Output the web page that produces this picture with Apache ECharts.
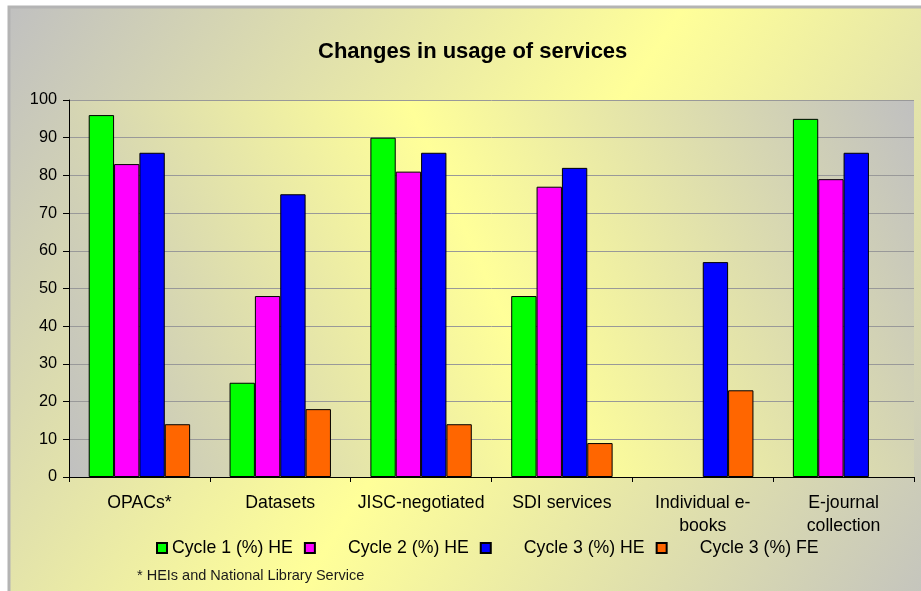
<!DOCTYPE html>
<html>
<head>
<meta charset="utf-8">
<title>Changes in usage of services</title>
<script src="https://cdn.jsdelivr.net/npm/echarts@6/dist/echarts.min.js"></script>
<style>
	html, body {margin:0; padding:0; background:#ffffff;}
	#main {width:921px; height:591px;}
</style>
</head>
<body>
<div id="main"></div>
<script>
	// 数据
	var categories = ['OPACs*', 'Datasets', 'JISC-negotiated', 'SDI services', 'Individual e-\nbooks', 'E-journal\ncollection'];
	var seriesNames = ['Cycle 1 (%) HE', 'Cycle 2 (%) HE', 'Cycle 3 (%) HE', 'Cycle 3 (%) FE'];
	var cycle1He = [96, 25, 90, 48, null, 95];
	var cycle2He = [83, 48, 81, 77, null, 79];
	var cycle3He = [86, 75, 86, 82, 57, 86];
	var cycle3Fe = [14, 18, 14, 9, 23, null];
	var yTicks = {min: 0, max: 100, interval: 10};
	var footnote = '* HEIs and National Library Service';

	var colors = ['#00ff00', '#ff00ff', '#0000ff', '#ff6600'];
	var fontName = '"Liberation Sans", Arial, sans-serif';

	function grayYellow(x, y, x2, y2){
		return {
			type: 'linear', x: x, y: y, x2: x2, y2: y2,
			colorStops: [
				{offset: 0, color: '#c0c0c0'},
				{offset: 0.5, color: '#ffff99'},
				{offset: 1, color: '#c0c0c0'}
			]
		};
	}

	function makeBar(name, values){
		return {
			name: name,
			type: 'bar',
			barGap: '0%',
			barCategoryGap: '28%',
			itemStyle: {borderColor: '#000000', borderWidth: 1},
			emphasis: {disabled: true},
			data: values
		};
	}

	// 图例，后三项文字离图标较远
	var legendData = [];
	for (var i = 0; i < seriesNames.length; i++) {
		legendData.push({
			name: seriesNames[i],
			textStyle: {padding: [0, 0, 0, i === 0 ? 0 : 28]}
		});
	}

	var myChart = echarts.init(document.getElementById('main'));
	var option = {
		animation: false,
		color: colors,
		textStyle: {fontFamily: fontName},
		title: {
			text: 'Changes in usage of services',
			left: 318,
			top: 41,
			padding: 0,
			textStyle: {fontSize: 22, fontWeight: 'bold', color: '#000000', fontFamily: fontName}
		},
		legend: {
			data: legendData,
			left: 156,
			top: 539,
			padding: 0,
			itemWidth: 10,
			itemHeight: 10,
			itemGap: 11,
			icon: 'rect',
			textStyle: {fontSize: 17.7, color: '#000000', fontFamily: fontName}
		},
		graphic: [
			{
				type: 'rect',
				z: -10,
				silent: true,
				shape: {x: 9, y: 7, width: 940, height: 620},
				style: {fill: grayYellow(0, 0, 1, 1), stroke: '#b4b4b4', lineWidth: 3}
			},
			{
				type: 'text',
				left: 137,
				top: 568,
				silent: true,
				style: {text: footnote, fontSize: 14.5, fill: '#1a1a1a', fontFamily: fontName}
			}
		],
		grid: {
			left: 69,
			top: 100,
			right: 7,
			bottom: 114,
			show: true,
			borderWidth: 0,
			backgroundColor: grayYellow(0, 1, 1, 0),
			containLabel: false,
			outerBoundsMode: 'none'
		},
		xAxis: {
			type: 'category',
			data: categories,
			axisLine: {show: true, lineStyle: {color: '#000000', width: 1}},
			axisTick: {show: true, length: 5, lineStyle: {color: '#000000'}},
			axisLabel: {
				interval: 0,
				margin: 15,
				fontSize: 17.7,
				lineHeight: 23,
				color: '#000000',
				fontFamily: fontName
			},
			splitLine: {show: false}
		},
		yAxis: {
			type: 'value',
			min: yTicks.min,
			max: yTicks.max,
			interval: yTicks.interval,
			axisLine: {show: true, lineStyle: {color: '#000000', width: 1}},
			axisTick: {show: true, length: 6, lineStyle: {color: '#000000'}},
			axisLabel: {margin: 12, fontSize: 16.3, color: '#000000', fontFamily: fontName},
			splitLine: {show: true, lineStyle: {color: '#999999', width: 1}}
		},
		series: [
			makeBar(seriesNames[0], cycle1He),
			makeBar(seriesNames[1], cycle2He),
			makeBar(seriesNames[2], cycle3He),
			makeBar(seriesNames[3], cycle3Fe)
		]
	};
	myChart.setOption(option);
</script>
</body>
</html>
